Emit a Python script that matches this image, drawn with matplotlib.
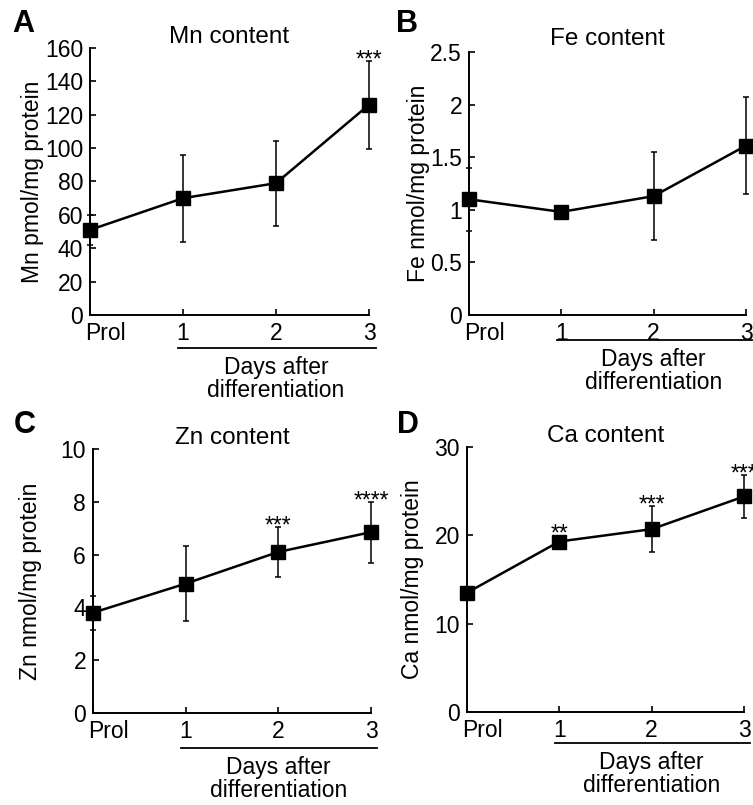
import matplotlib
matplotlib.use('Agg')
import matplotlib.pyplot as plt
import matplotlib.transforms as mtransforms

plt.rcParams['font.family'] = ['Liberation Sans', 'DejaVu Sans']

# x categories
x_pos = [0, 1, 2, 3]
x_labels = ['Prol', '1', '2', '3']

# Mn content (pmol/mg protein)
mn_mean = [51, 70, 79, 126]
mn_err = [9, 26, 25.5, 26.5]
mn_sig = ['', '', '', '***']

# Fe content (nmol/mg protein)
fe_mean = [1.1, 0.98, 1.13, 1.61]
fe_err = [0.3, 0.03, 0.42, 0.46]
fe_sig = ['', '', '', '']

# Zn content (nmol/mg protein)
zn_mean = [3.8, 4.9, 6.1, 6.85]
zn_err = [0.65, 1.42, 0.95, 1.15]
zn_sig = ['', '', '***', '****']

# Ca content (nmol/mg protein)
ca_mean = [13.5, 19.3, 20.7, 24.4]
ca_err = [0.5, 0.5, 2.6, 2.45]
ca_sig = ['', '**', '***', '***']

W, H = 753, 805
fig = plt.figure(figsize=(W / 100, H / 100), dpi=100)

# letter, title, ylabel, data, ylim, ystep, axes box in px (left, top, right, bottom), extras
panels = [
    dict(letter='A', title='Mn content', ylabel='Mn pmol/mg protein',
         mean=mn_mean, err=mn_err, sig=mn_sig, ymax=160, ystep=20,
         box=(90, 48, 369, 315), letter_xy=(12, 32), tpad=2, lab=-0.165, line_off=33),
    dict(letter='B', title='Fe content', ylabel='Fe nmol/mg protein',
         mean=fe_mean, err=fe_err, sig=fe_sig, ymax=2.5, ystep=0.5,
         box=(469, 52, 746, 315), letter_xy=(396, 32), tpad=5, lab=-0.141, line_off=25),
    dict(letter='C', title='Zn content', ylabel='Zn nmol/mg protein',
         mean=zn_mean, err=zn_err, sig=zn_sig, ymax=10, ystep=2,
         box=(93, 449, 371, 713), letter_xy=(14, 433), tpad=1.5, lab=-0.183, line_off=35),
    dict(letter='D', title='Ca content', ylabel='Ca nmol/mg protein',
         mean=ca_mean, err=ca_err, sig=ca_sig, ymax=30, ystep=10,
         box=(467, 447, 744, 712), letter_xy=(397, 433), tpad=0.5, lab=-0.155, line_off=31),
]

for p in panels:
    l, t, r, b = p['box']
    ax = fig.add_axes([l / W, 1 - b / H, (r - l) / W, (b - t) / H])
    ax.errorbar(x_pos, p['mean'], yerr=p['err'], fmt='none', ecolor='black',
                elinewidth=1.1, capsize=2.2, capthick=1.1, clip_on=False, zorder=2)
    ax.plot(x_pos, p['mean'], color='black', lw=1.8, marker='s', markersize=9.4,
            clip_on=False, zorder=3)
    ax.set_xlim(0, 3)
    ax.set_ylim(0, p['ymax'])
    n = int(round(p['ymax'] / p['ystep']))
    yt = [i * p['ystep'] for i in range(n + 1)]
    ax.set_yticks(yt)
    ax.set_yticklabels([f'{v:g}' for v in yt])
    ax.set_xticks(x_pos)
    ax.set_xticklabels(x_labels)
    for s in ['top', 'right']:
        ax.spines[s].set_visible(False)
    for s in ['left', 'bottom']:
        ax.spines[s].set_linewidth(1.4)
    ax.tick_params(direction='in', length=4, width=1.2, labelsize=16.5, pad=5)
    ax.tick_params(axis='x', pad=5)
    prol = ax.get_xticklabels()[0]
    prol.set_horizontalalignment('left')
    prol.set_transform(prol.get_transform() +
                       mtransforms.ScaledTranslation(-5 / 100, 0, fig.dpi_scale_trans))
    ax.set_ylabel(p['ylabel'], fontsize=16.5)
    ax.yaxis.set_label_coords(p['lab'], 0.5)
    ax.set_title(p['title'], fontsize=17.5, pad=p['tpad'])

    # significance stars above error bars
    for xi, m, e, s in zip(x_pos, p['mean'], p['err'], p['sig']):
        if not s:
            continue
        y0 = ax.transData.transform((xi, m))[1]
        y1 = ax.transData.transform((xi, m + e))[1]
        up_pt = max(y1 - y0, 6.5) * 72 / 100
        ax.annotate(s, (xi, m), xytext=(0, up_pt - 4), textcoords='offset points',
                    ha='center', va='baseline', fontsize=16.5, annotation_clip=False)

    # "Days after differentiation" bracket
    off = -p['line_off'] / (b - t)
    ax.plot([0.95, 3.07], [off, off], color='black', lw=1.3,
            transform=ax.get_xaxis_transform(), clip_on=False)
    ax.text(2.0, off - 8 / (b - t), 'Days after\ndifferentiation', ha='center', va='top',
            fontsize=16.5, linespacing=1.02, transform=ax.get_xaxis_transform())

    fig.text(p['letter_xy'][0] / W, 1 - p['letter_xy'][1] / H, p['letter'],
             fontsize=22, fontweight='bold', ha='left', va='baseline')

fig.savefig('out.png', dpi=100)
